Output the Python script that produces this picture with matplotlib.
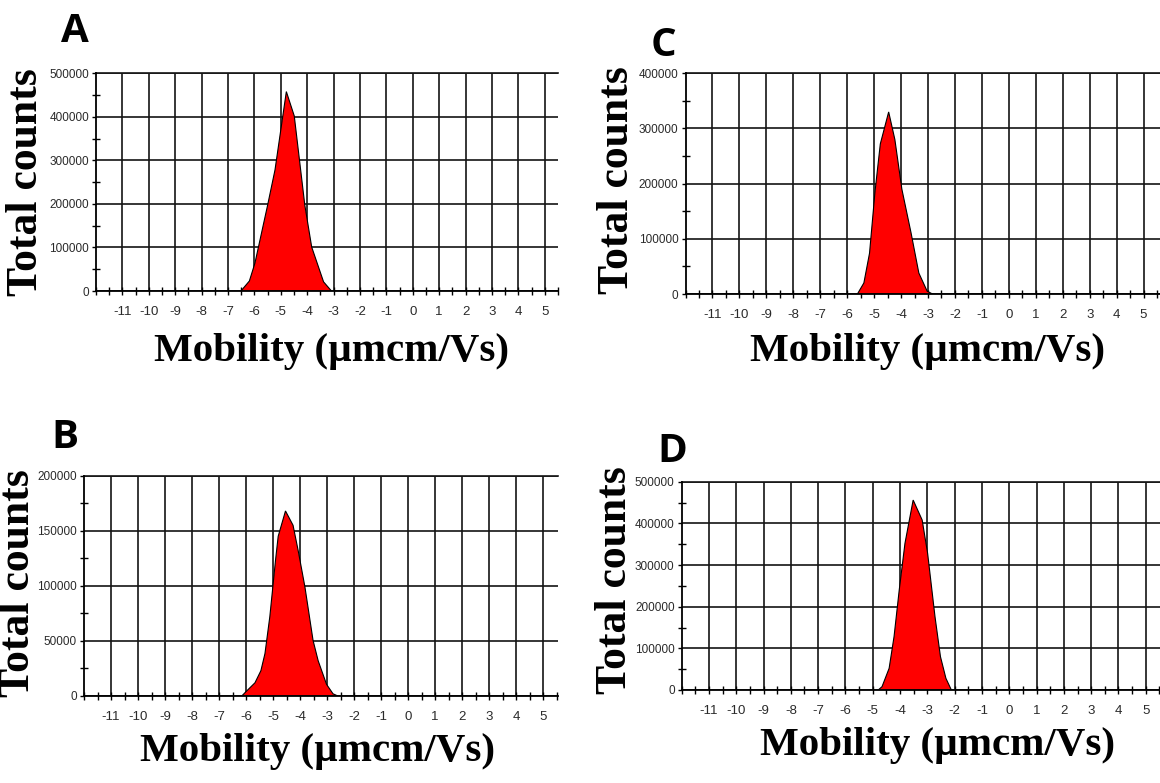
import matplotlib
matplotlib.use("Agg")
import matplotlib.pyplot as plt
from matplotlib.ticker import MultipleLocator, FixedLocator

plt.rcParams['axes.unicode_minus'] = False

# ---------------- data ----------------
x_ticks = [-11, -10, -9, -8, -7, -6, -5, -4, -3, -2, -1, 0, 1, 2, 3, 4, 5]
x_tick_labels = [str(v) for v in x_ticks]

a_x = [-6.51, -6.19, -5.98, -5.50, -5.22, -4.79, -4.49, -4.09, -3.83, -3.38, -3.08]
a_y = [0, 23000, 64000, 197000, 278000, 458000, 402000, 197000, 101000, 21000, 0]

b_x = [-6.16, -5.98, -5.67, -5.45, -5.30, -5.12, -4.91, -4.81, -4.54, -4.26, -4.07,
       -3.82, -3.52, -3.33, -3.02, -2.78, -2.60]
b_y = [0, 4500, 12000, 23000, 38500, 72000, 123000, 145000, 168000, 155000, 132000,
       99000, 50600, 32000, 10600, 2000, 0]

c_x = [-5.62, -5.38, -5.17, -4.97, -4.77, -4.46, -4.23, -3.97, -3.63, -3.34, -3.03, -2.83]
c_y = [0, 20000, 74000, 184000, 272000, 330000, 280000, 190000, 111000, 38000, 5000, 0]

d_x = [-4.80, -4.66, -4.40, -4.22, -4.03, -3.82, -3.52, -3.19, -2.99, -2.72, -2.52,
       -2.32, -2.12]
d_y = [0, 8000, 52000, 128000, 240000, 352000, 456000, 408000, 328000, 176000, 80000,
       28000, 0]

y_label = "Total counts"
x_label = "Mobility (\u00b5mcm/Vs)"

# ---------------- layout (pixels) ----------------
W, H = 1160, 783
fig = plt.figure(figsize=(W / 100, H / 100), dpi=100)
fig.patch.set_facecolor("white")


def make_axes(l, r, t, b):
    return fig.add_axes([l / W, 1 - b / H, (r - l) / W, (b - t) / H])


panels = [
    dict(x=a_x, y=a_y, box=(96, 558, 73.3, 291), xmax=5.5, ymax=500000, ymaj=100000,
         ymin=50000, yl=(26, 182), xl=(332, 351), lt=(75, 32), letter="A"),
    dict(x=b_x, y=b_y, box=(84, 558, 475.7, 696), xmax=5.55, ymax=200000, ymaj=50000,
         ymin=25000, yl=(18, 583), xl=(318, 751), lt=(65, 437), letter="B"),
    dict(x=c_x, y=c_y, box=(685.5, 1160, 73.3, 294), xmax=5.61, ymax=400000, ymaj=100000,
         ymin=50000, yl=(617, 180), xl=(928, 351), lt=(663, 46), letter="C"),
    dict(x=d_x, y=d_y, box=(681.6, 1160, 481.7, 690), xmax=5.52, ymax=500000, ymaj=100000,
         ymin=50000, yl=(615, 580), xl=(937, 745), lt=(672, 452), letter="D"),
]

grid_color = "#141414"
tick_color = "#2a2a2a"

for p in panels:
    l, r, t, b = p["box"]
    ax = make_axes(l, r, t, b)
    ax.set_xlim(-12, p["xmax"])
    ax.set_ylim(0, p["ymax"])

    ax.fill(p["x"], p["y"], facecolor="#ff0000", edgecolor="black", linewidth=0.8, zorder=3)

    ax.xaxis.set_major_locator(FixedLocator(x_ticks))
    ax.set_xticklabels(x_tick_labels)
    ax.xaxis.set_minor_locator(MultipleLocator(0.5))
    ax.yaxis.set_major_locator(MultipleLocator(p["ymaj"]))
    ax.yaxis.set_minor_locator(MultipleLocator(p["ymin"]))

    ax.grid(True, which="major", color=grid_color, linewidth=1.2, zorder=1)
    ax.set_axisbelow(True)

    ax.spines["right"].set_visible(False)
    ax.spines["top"].set_color(grid_color)
    ax.spines["top"].set_linewidth(1.2)
    ax.spines["left"].set_linewidth(1.3)
    ax.spines["bottom"].set_linewidth(1.3)
    ax.spines["left"].set_zorder(4)
    ax.spines["bottom"].set_zorder(4)

    ax.tick_params(axis="x", which="both", direction="inout", length=6, width=1.0,
                   color="black", pad=8, labelsize=9.5, labelcolor=tick_color)
    ax.tick_params(axis="y", which="major", direction="out", length=3, width=1.0,
                   color="black", pad=2, labelsize=8.5, labelcolor=tick_color)
    ax.tick_params(axis="y", which="minor", direction="inout", length=6, width=1.0,
                   color="black")
    for lab in ax.get_xticklabels() + ax.get_yticklabels():
        lab.set_fontfamily("Liberation Sans")

    yx, yy = p["yl"]
    fig.text(yx / W, 1 - yy / H, y_label, rotation=90, ha="center", va="center",
             fontsize=31.5, fontweight="bold", family="Liberation Serif", color="black")
    xx, xy = p["xl"]
    fig.text(xx / W, 1 - xy / H, x_label, ha="center", va="center",
             fontsize=29.5, fontweight="bold", family="Liberation Serif", color="black")
    lx, ly = p["lt"]
    fig.text(lx / W, 1 - ly / H, p["letter"], ha="center", va="center",
             fontsize=29, fontweight="bold", family="Open Sans", color="black")

fig.savefig("out.png", dpi=100, facecolor="white")
